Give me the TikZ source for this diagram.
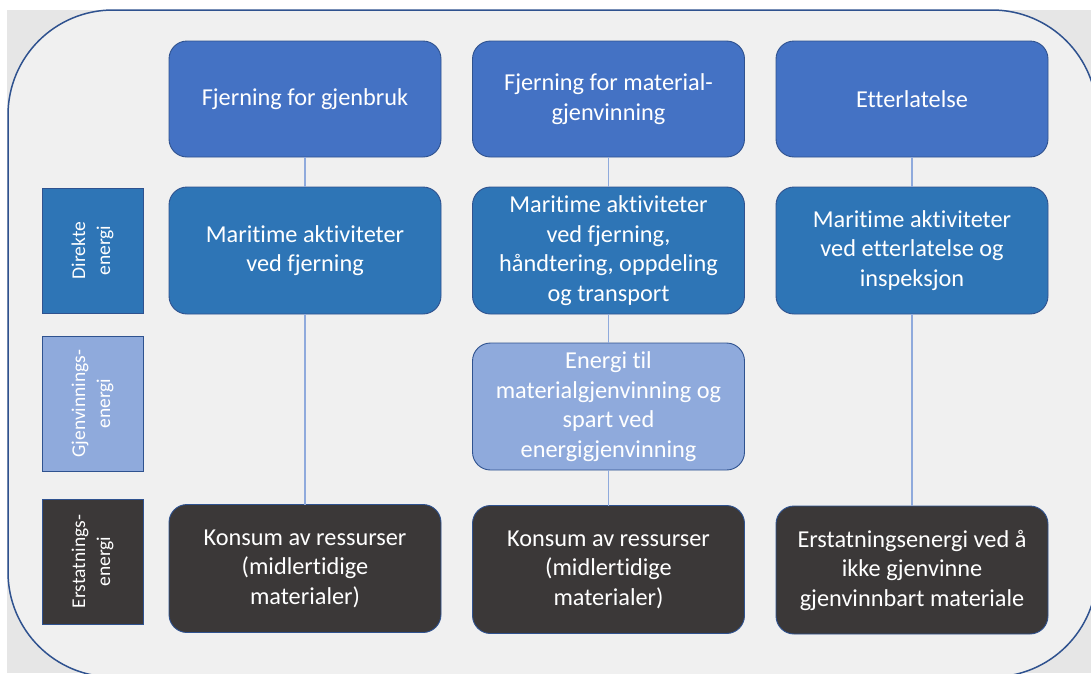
\documentclass[tikz,border=0pt]{standalone}
\usepackage{fontspec}
\setmainfont{Carlito}[Ligatures={NoCommon}]
\definecolor{pagegrey}{HTML}{E6E6E6}
\definecolor{framefill}{HTML}{F0F0F0}
\definecolor{edgeblue}{HTML}{2F528F}
\definecolor{topblue}{HTML}{4472C4}
\definecolor{midblue}{HTML}{2E75B6}
\definecolor{lightblue}{HTML}{8FAADC}
\definecolor{darkgrey}{HTML}{3B3838}
\definecolor{linkblue}{HTML}{8FAADC}
\tikzset{
  box/.style={draw=edgeblue, line width=0.9pt, rounded corners=18pt, text=white,
    align=center, inner sep=4pt, outer sep=0pt, minimum width=272pt,
    font=\fontsize{24.3}{29.5}\selectfont},
  topbox/.style={box, fill=topblue, minimum height=116pt},
  midbox/.style={box, fill=midblue, minimum height=127pt},
  recbox/.style={box, fill=lightblue, minimum height=127pt},
  botbox/.style={box, fill=darkgrey, minimum height=128pt},
  sidebox/.style={draw=edgeblue, line width=0.9pt, text=white, align=center,
    rotate=90, inner sep=2pt, outer sep=0pt, minimum height=101pt,
    font=\fontsize{19.5}{25}\selectfont},
  link/.style={draw=linkblue, line width=1.2pt}
}
\begin{document}
\begin{tikzpicture}[x=1pt,y=-1pt]
\useasboundingbox (0,0) rectangle (1091,673);
\clip (0,0) rectangle (1091,673);
\fill[white] (0,0) rectangle (1091,673);
\fill[pagegrey] (7,10) rectangle (1091,673);
\draw[edgeblue, line width=1.5pt, fill=framefill, rounded corners=105pt] (8,10) rectangle (1097,677);

% column headers
\node[topbox] (t1) at (305,99) {Fjerning for gjenbruk};
\node[topbox] (t2) at (608.5,99) {Fjerning for material-\\gjenvinning};
\node[topbox] (t3) at (912,99) {Etterlatelse};

% direct energy row
\node[midbox] (m1) at (305,250.5) {Maritime aktiviteter\\ved fjerning};
\node[midbox] (m2) at (608.5,250.5) {Maritime aktiviteter\\ved fjerning,\\håndtering, oppdeling\\og transport};
\node[midbox] (m3) at (912,250.5) {Maritime aktiviteter\\ved etterlatelse og\\inspeksjon};

% recovery energy row
\node[recbox] (r2) at (608.5,406.5) {Energi til\\materialgjenvinning og\\spart ved\\energigjenvinning};

% replacement energy row
\node[botbox] (b1) at (305,568.5) {Konsum av ressurser\\(midlertidige\\materialer)};
\node[botbox] (b2) at (608.5,569.5) {Konsum av ressurser\\(midlertidige\\materialer)};
\node[botbox] (b3) at (912,570) {Erstatningsenergi ved å\\ikke gjenvinne\\gjenvinnbart materiale};

% side labels
\node[sidebox, fill=midblue, minimum width=125pt] (s1) at (92.5,250.5) {Direkte\\energi};
\node[sidebox, fill=lightblue, minimum width=135pt] (s2) at (92.5,403.5) {Gjenvinnings-\\energi};
\node[sidebox, fill=darkgrey, minimum width=125pt] (s3) at (92.5,561.5) {Erstatnings-\\energi};

% connectors
\draw[link] (t1.south) -- (m1.north);
\draw[link] (m1.south) -- (b1.north);
\draw[link] (t2.south) -- (m2.north);
\draw[link] (m2.south) -- (r2.north);
\draw[link] (r2.south) -- (b2.north);
\draw[link] (t3.south) -- (m3.north);
\draw[link] (m3.south) -- (b3.north);
\end{tikzpicture}
\end{document}
